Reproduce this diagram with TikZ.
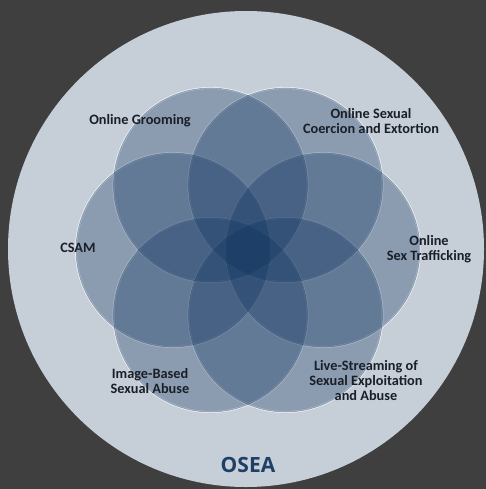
\documentclass[tikz,border=0pt]{standalone}
\usepackage{fontspec}
\setmainfont{Carlito}
\newfontfamily\osfont{Open Sans}
\definecolor{bgc}{HTML}{3F3F3F}
\definecolor{outerc}{HTML}{C6CED8}
\definecolor{navyc}{HTML}{0A2F5C}
\definecolor{txtc}{HTML}{1A1E27}
\definecolor{oseac}{HTML}{1E3F66}
\tikzset{
  petalrim/.style={circle, inner sep=0pt, minimum size=194pt, draw=white, draw opacity=0.8, line width=2pt},
  petal/.style={circle, inner sep=0pt, minimum size=194pt, fill=navyc, fill opacity=0.31,
    draw=navyc, draw opacity=0.3, line width=0.7pt},
  lbl/.style={font=\bfseries\fontsize{14.3}{15}\selectfont, text=txtc, align=center, inner sep=0pt}
}
\begin{document}
\begin{tikzpicture}[x=1pt,y=-1pt]
\fill[bgc] (0,0) rectangle (486,489);
\useasboundingbox (0,0) rectangle (486,489);
\node[circle, inner sep=0pt, minimum size=476pt, fill=outerc] (outer) at (246,249) {};
\node[petalrim] (rgroom) at (210.5,185) {};
\node[petalrim] (rcoerce) at (285.5,185) {};
\node[petalrim] (rtraffic) at (323,250) {};
\node[petalrim] (rlive) at (285.5,315) {};
\node[petalrim] (rimage) at (210.5,315) {};
\node[petalrim] (rcsam) at (173,250) {};
\node[petal] (groom) at (210.5,185) {};
\node[petal] (coerce) at (285.5,185) {};
\node[petal] (traffic) at (323,250) {};
\node[petal] (live) at (285.5,315) {};
\node[petal] (image) at (210.5,315) {};
\node[petal] (csam) at (173,250) {};
\node[lbl] (tgroom) at (140,121) {Online Grooming};
\node[lbl] (tcoerce) at (371,121) {Online Sexual\\Coercion and Extortion};
\node[lbl] (ttraffic) at (429,249) {Online\\Sex Trafficking};
\node[lbl] (tcsam) at (78,248) {CSAM};
\node[lbl] (timage) at (150,381) {Image-Based\\Sexual Abuse};
\node[lbl] (tlive) at (366,381) {Live-Streaming of\\Sexual Exploitation\\and Abuse};
\node[font=\osfont\bfseries\fontsize{21}{24}\selectfont, text=oseac, inner sep=0pt] (osea) at (248,465) {OSEA};
\end{tikzpicture}
\end{document}
